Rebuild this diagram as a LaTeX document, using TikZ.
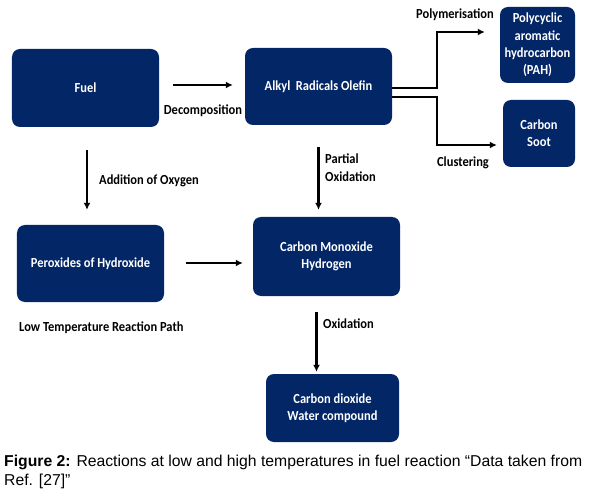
\documentclass[tikz,border=0pt]{standalone}
\usepackage{fontspec}
\setmainfont{Carlito}[FakeStretch=0.9]
\newfontfamily\capfont{Liberation Sans}
\usetikzlibrary{arrows.meta}
\definecolor{navybox}{RGB}{3,38,102}

\begin{document}
\begin{tikzpicture}[x=1bp,y=-1bp,
    blk/.style={draw=none,fill=navybox,text=white,rounded corners=8bp,inner sep=0pt,
      align=center,font=\fontsize{13.9}{17.3}\selectfont\bfseries},
    lbl/.style={inner sep=0pt,font=\fontsize{13.9}{18}\selectfont\bfseries},
    arr/.style={line width=2.2bp,-{Latex[length=7bp,width=7bp]}}]
    \useasboundingbox (0,0) rectangle (594,504);
    \node(fuel) at (85.5,88) [blk,minimum width=147bp,minimum height=78bp] {Fuel};
    \node(alkyl) at (318.5,86.5) [blk,minimum width=147bp,minimum height=77bp] {Alkyl~ Radicals Olefin};
    \node(pah) at (537.5,45) [blk,minimum width=75bp,minimum height=76bp] {Polycyclic\\aromatic\\hydrocarbon\\(PAH)};
    \node(soot) at (539,133.5) [blk,minimum width=72bp,minimum height=67bp] {Carbon\\Soot};
    \node(perox) at (90.5,263.5) [blk,minimum width=147bp,minimum height=77bp] {Peroxides of Hydroxide};
    \node(co) at (326.5,256.5) [blk,minimum width=147bp,minimum height=79bp] {Carbon Monoxide\\Hydrogen};
    \node(co2) at (332.5,408) [blk,minimum width=133bp,minimum height=68bp] {Carbon dioxide\\Water compound};

    % reaction labels
    \node(ldecomp) at (203,111) [lbl] {Decomposition};
    \node(laddox) at (99,181) [lbl,anchor=west] {Addition of Oxygen};
    \node(lpoly) at (455,15) [lbl] {Polymerisation};
    \node(lclust) at (463,163) [lbl] {Clustering};
    \node(lpartial) at (325,168) [lbl,anchor=west,align=left] {Partial\\Oxidation};
    \node(loxid) at (323,324) [lbl,anchor=west] {Oxidation};
    \node(llow) at (19,328) [lbl,anchor=west] {Low Temperature Reaction Path};

    % arrows
    \draw[arr,shorten <=14bp,shorten >=12bp] ([yshift=3bp]fuel.east) -- ([yshift=3bp]fuel.east -| alkyl.west);
    \draw[arr,shorten <=23bp,shorten >=15bp] ([xshift=1.5bp]fuel.south) -- ([xshift=1.5bp]fuel.south |- perox.north);
    \draw[arr,shorten <=22bp,shorten >=7bp] (alkyl.south) -- (alkyl.south |- co.north);
    \draw[arr,shorten <=22bp,shorten >=10bp] (perox.east |- 0,263) -- (co.west |- 0,263);
    \draw[arr,shorten <=16bp,shorten >=2bp] ([xshift=-10bp]co.south) -- ([xshift=-10bp]co.south |- co2.north);
    \draw[arr,shorten >=15bp] (alkyl.east |- 0,88) -- (437,88) |- (pah.west |- 0,32);
    \draw[arr,shorten >=6bp] (alkyl.east |- 0,97) -- (437,97) |- (soot.west |- 0,145);

    % caption
    \node(caption) at (4,455) [anchor=north west,inner sep=0pt,align=left,
      font=\capfont\fontsize{15.8}{18.5}\selectfont]
      {\textbf{Figure 2:} Reactions at low and high temperatures in fuel reaction “Data taken from\\Ref. [27]”};
\end{tikzpicture}
\end{document}
